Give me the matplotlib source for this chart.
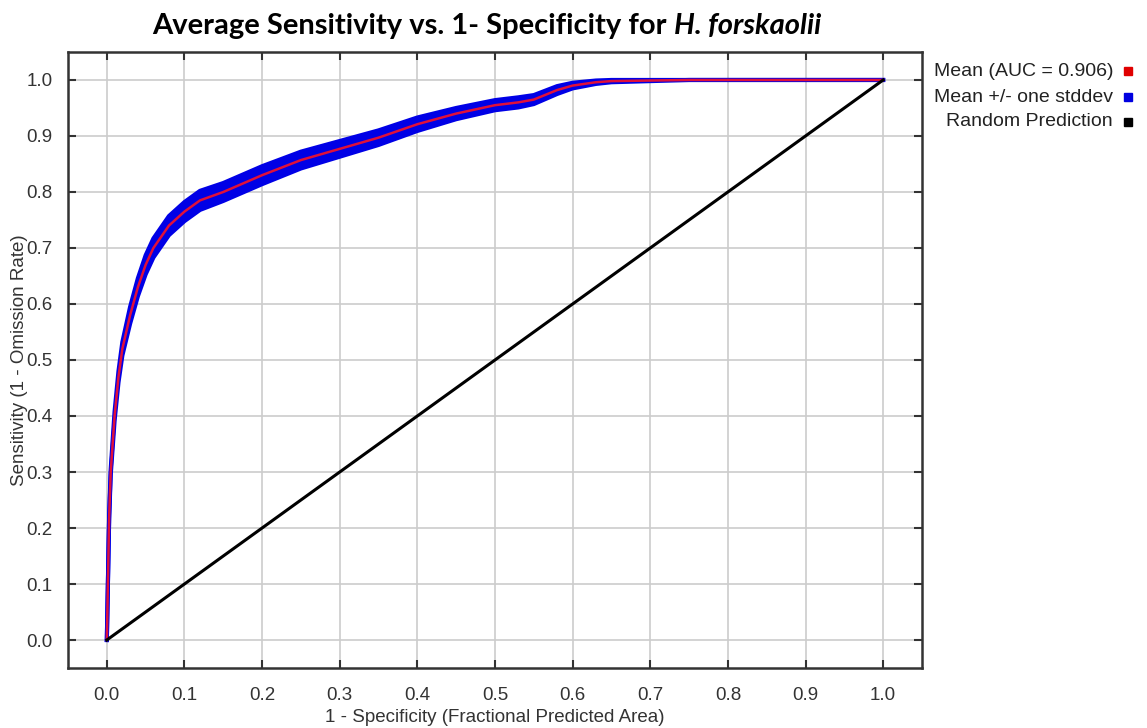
import matplotlib
matplotlib.use("Agg")
import matplotlib.pyplot as plt
import numpy as np

# Data
fpr = [0.0, 0.003, 0.005, 0.008, 0.01, 0.015, 0.02, 0.03, 0.04, 0.05, 0.06, 0.08, 0.10,
       0.12, 0.15, 0.20, 0.25, 0.30, 0.35, 0.40, 0.45, 0.50, 0.53, 0.55, 0.58, 0.60,
       0.63, 0.65, 0.70, 0.75, 0.80, 0.90, 1.0]
mean_sens = [0.0, 0.22, 0.30, 0.36, 0.40, 0.47, 0.52, 0.58, 0.63, 0.67, 0.70, 0.74, 0.765,
             0.785, 0.80, 0.83, 0.857, 0.877, 0.897, 0.921, 0.940, 0.955, 0.96, 0.965, 0.982, 0.99,
             0.996, 0.998, 0.999, 1.0, 1.0, 1.0, 1.0]
std_sens = [0.0, 0.003, 0.005, 0.007, 0.008, 0.010, 0.012, 0.015, 0.016, 0.017, 0.017, 0.017, 0.017,
            0.017, 0.016, 0.016, 0.015, 0.014, 0.013, 0.012, 0.010, 0.009, 0.009, 0.008, 0.007, 0.005,
            0.003, 0.002, 0.001, 0.0, 0.0, 0.0, 0.0]
random_x = [0.0, 1.0]
random_y = [0.0, 1.0]
xticks = [0.0, 0.1, 0.2, 0.3, 0.4, 0.5, 0.6, 0.7, 0.8, 0.9, 1.0]
yticks = [0.0, 0.1, 0.2, 0.3, 0.4, 0.5, 0.6, 0.7, 0.8, 0.9, 1.0]
legend_labels = ["Mean (AUC = 0.906)", "Mean +/- one stddev", "Random Prediction"]
legend_colors = ["#e00000", "#0000e0", "#000000"]

plt.rcParams['font.family'] = ['Liberation Sans', 'DejaVu Sans']

fig = plt.figure(figsize=(11.47, 7.28), dpi=100)
ax = fig.add_axes([0.0593, 0.0824, 0.7445, 0.8462])

m = np.array(mean_sens)
s = np.array(std_sens)
ax.fill_between(fpr, m - s, np.minimum(m + s, 1.0), color="#0000e6", lw=0, zorder=2)
ax.plot(fpr, m - s, color="#0000e6", lw=3, zorder=2)
ax.plot(fpr, np.minimum(m + s, 1.0), color="#0000e6", lw=3, zorder=2)
ax.plot(fpr, m, color="#e0103a", lw=1.8, zorder=3)
ax.plot(random_x, random_y, color="black", lw=2.2, zorder=3)

ax.set_xlim(-0.05, 1.05)
ax.set_ylim(-0.05, 1.05)
ax.set_xticks(xticks)
ax.set_yticks(yticks)
ax.set_xticklabels([f"{v:.1f}" for v in xticks])
ax.set_yticklabels([f"{v:.1f}" for v in yticks])
ax.grid(True, color="#cccccc", lw=1.2, zorder=0)
ax.set_axisbelow(True)
ax.tick_params(direction="in", length=6, width=1.5, top=True, right=True,
               labelsize=13.5, colors="#333333", pad=11)
ax.tick_params(axis="x", pad=14)
for sp in ax.spines.values():
    sp.set_linewidth(1.8)
    sp.set_color("#333333")

ax.set_xlabel("1 - Specificity (Fractional Predicted Area)", fontsize=13.5, color="#333333", labelpad=3)
ax.set_ylabel("Sensitivity (1 - Omission Rate)", fontsize=13.5, color="#333333", labelpad=-1)

# title: regular bold part + italic species name, centred as a whole
fig.canvas.draw()
r = fig.canvas.get_renderer()
tfont = dict(fontsize=21, fontweight="bold", family=["Lato", "DejaVu Sans"])
t1 = fig.text(0, 0.964, "Average Sensitivity vs. 1- Specificity for ", ha="left", va="center", **tfont)
t2 = fig.text(0, 0.964, "H. forskaolii", ha="left", va="center", fontstyle="italic", **tfont)
w1 = t1.get_window_extent(r).width / fig.bbox.width
w2 = t2.get_window_extent(r).width / fig.bbox.width
cx = 487 / 1147
x0 = cx - (w1 + w2) / 2
t1.set_x(x0)
t2.set_x(x0 + w1)

# legend-like entries
ys = [71, 97, 122]
for lab, col, yp in zip(legend_labels, legend_colors, ys):
    yf = 1 - yp / 728
    fig.text(1113 / 1147, yf, lab, ha="right", va="center", fontsize=14, color="#222222")
    fig.patches.append(matplotlib.patches.Rectangle((1124 / 1147, yf - 4 / 728), 8 / 1147, 8 / 728,
                                                    transform=fig.transFigure, color=col, figure=fig))

fig.savefig("out.png", dpi=100)
